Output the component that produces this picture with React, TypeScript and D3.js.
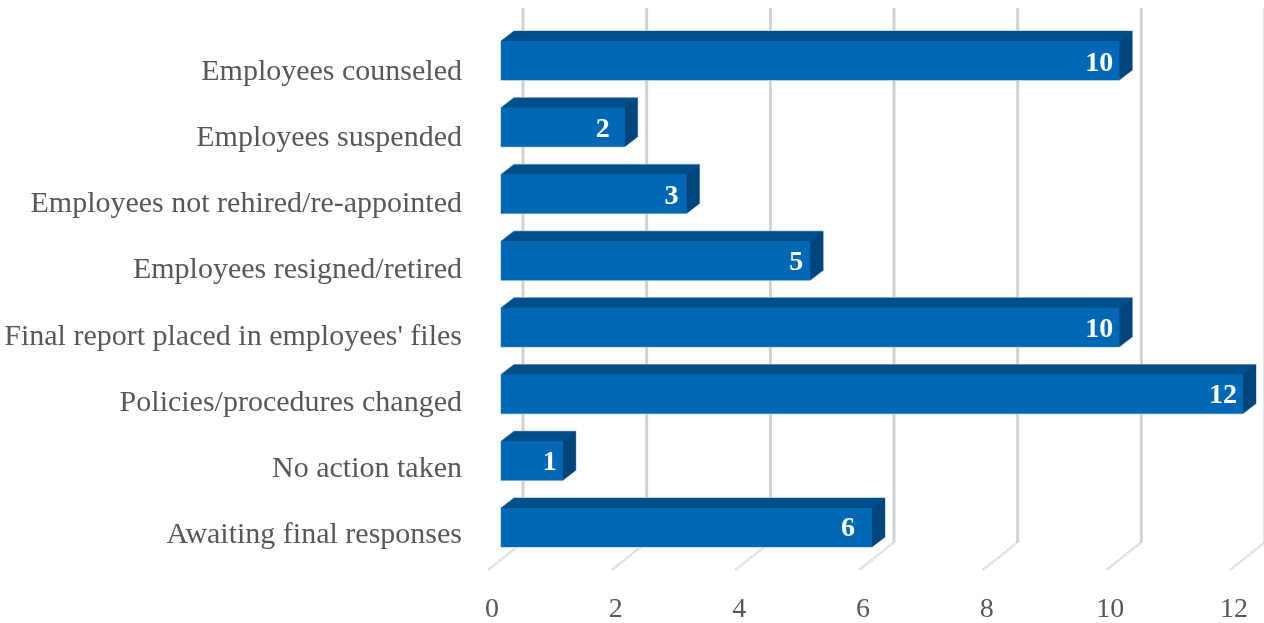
import React from "react";
import * as d3 from "d3";

const categories = [
  "Employees counseled",
  "Employees suspended",
  "Employees not rehired/re-appointed",
  "Employees resigned/retired",
  "Final report placed in employees' files",
  "Policies/procedures changed",
  "No action taken",
  "Awaiting final responses",
];
const values = [10, 2, 3, 5, 10, 12, 1, 6];
const ticks = [0, 2, 4, 6, 8, 10, 12];

const W = 1264, H = 623;
const FONT = "'Liberation Serif', serif";
const DX = 13, DY = 10;          // bar depth
const WALL_X = 22;               // back wall offset from the front plane
const labelGaps = [6, 15, 8, 7, 6, 6, 6, 17]; // gap between value label and bar end
const x = d3.scaleLinear().domain([0, 12]).range([501, 1243]);
const y = d3.scaleBand<string>().domain(categories).range([41, 547]).paddingInner(0.415).paddingOuter(0);
const labelY = d3.scaleLinear().domain([0, 7]).range([80, 543]);
const valueY = d3.scaleLinear().domain([0, 7]).range([71, 536]);
const line = d3.line();

export default function App() {
  const bh = y.bandwidth();
  return (
    <svg width={W} height={H} style={{ position: "absolute", left: 0, top: 0, background: "#fff" }}>
      <defs>
        <filter id="soft" filterUnits="userSpaceOnUse" x={0} y={0} width={W} height={H}>
          <feGaussianBlur stdDeviation="0.4" />
        </filter>
      </defs>
      <rect width={W} height={H} fill="#fff" />
      <g filter="url(#soft)">
        {ticks.map((t) => {
          const gx = x(t) + WALL_X;
          return (
            <g key={t}>
              <line x1={gx} x2={gx} y1={8} y2={543} stroke="#d2d2d2" strokeWidth={3} />
              <line x1={gx - 1} y1={543} x2={gx - 35} y2={570} stroke="#cfcfcf" strokeWidth={2.6} strokeDasharray="1.2 1" />
              <text x={x(t) - 9} y={617} textAnchor="middle" fontFamily={FONT} fontSize={28} fill="#595959">{t}</text>
            </g>
          );
        })}
        {categories.map((c, i) => {
          const v = values[i];
          const top = y(c)!;
          const bot = top + bh;
          const l = x(0), r = x(v);
          const path = (p: [number, number][]) => line(p) + "Z";
          return (
            <g key={c}>
              <text x={462} y={labelY(i)} textAnchor="end" fontFamily={FONT} fontSize={30} fill="#595959">{c}</text>
              <path d={path([[l, top], [l + DX, top - DY], [r + DX, top - DY], [r + DX, bot - DY], [r, bot], [l, bot]])} fill="#0067b4" stroke="#a9c4dc" strokeWidth={1.2} />
              <path d={path([[l, top], [l + DX, top - DY], [r + DX, top - DY], [r, top]])} fill="#004f8b" />
              <path d={path([[r, top], [r + DX, top - DY], [r + DX, bot - DY], [r, bot]])} fill="#00457c" />
              <rect x={l} y={top} width={r - l} height={bh} fill="#0067b4" />
              <text x={r - labelGaps[i]} y={valueY(i)} textAnchor="end" fontFamily={FONT} fontSize={28} fontWeight={700} fill="#fff">{v}</text>
            </g>
          );
        })}
      </g>
    </svg>
  );
}
